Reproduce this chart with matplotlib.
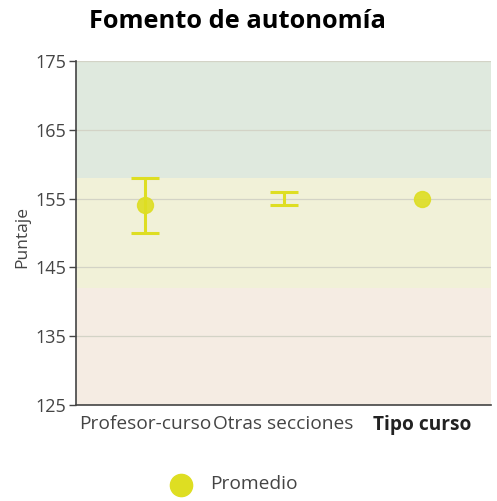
import matplotlib
matplotlib.use("Agg")
import matplotlib.pyplot as plt
import numpy as np

categories = ["Profesor-curso", "Otras secciones", "Tipo curso"]
means = [154, np.nan, 155]
err_low = [150, 154, np.nan]
err_high = [158, 156, np.nan]
band_edges = [125, 142, 158, 175]
band_colors = ["#f5ece3", "#f1f1d8", "#dfe9de"]
yticks = [125, 135, 145, 155, 165, 175]

plt.rcParams['font.family'] = ['Open Sans', 'DejaVu Sans']
fig = plt.figure(figsize=(4.97, 5.01), dpi=100)
ax = fig.add_axes([76/497, 1-405/501, (491-76)/497, (405-61)/501])

for lo, hi, c in zip(band_edges[:-1], band_edges[1:], band_colors):
    ax.axhspan(lo, hi, color=c, zorder=0, lw=0)

x = np.arange(len(categories))
col = "#dede22"
for xi, lo, hi in zip(x, err_low, err_high):
    if not np.isnan(lo):
        ax.errorbar([xi], [(lo+hi)/2], yerr=[[(hi-lo)/2], [(hi-lo)/2]], fmt='none',
                    ecolor=col, elinewidth=2.2, capsize=10, capthick=2.2, zorder=3)
ax.plot(x, means, 'o', color=col, markersize=11.5, ls='none', zorder=4, alpha=0.9)

ax.set_xlim(-0.5, 2.5)
ax.set_ylim(125, 175)
ax.set_yticks(yticks)
ax.grid(axis='y', color='#d3d3c6', lw=0.9, zorder=1)
ax.set_axisbelow(True)
ax.set_xticks(x)
ax.set_xticklabels(categories, fontsize=13.8, color='#444444')
ax.get_xticklabels()[2].set_fontweight('bold')
ax.get_xticklabels()[2].set_color('#222222')
ax.tick_params(axis='x', length=0, pad=7)
ax.tick_params(axis='y', labelsize=13, colors='#444444', length=5, width=1, pad=2)
for s in ['top', 'right']:
    ax.spines[s].set_visible(False)
ax.spines['left'].set_color('#444444')
ax.spines['bottom'].set_color('#444444')
ax.spines['left'].set_linewidth(1.2)
ax.spines['bottom'].set_linewidth(1.2)

fig.text(22/497, 1-237/501, "Puntaje", rotation=90, ha='center', va='center',
         fontsize=12.5, color='#444444')
fig.text(237/497, 1-21/501, "Fomento de autonomía", ha='center', va='center',
         fontsize=18.3, fontweight='bold', color='#000000')

ax2 = fig.add_axes([0, 0, 1, 1], facecolor='none')
ax2.set_xlim(0, 497); ax2.set_ylim(501, 0); ax2.axis('off')
ax2.plot([181], [485], 'o', color=col, markersize=16)
ax2.text(210, 484, "Promedio", va='center', ha='left', fontsize=13.8, color='#444444')

fig.savefig("out.png", dpi=100)
